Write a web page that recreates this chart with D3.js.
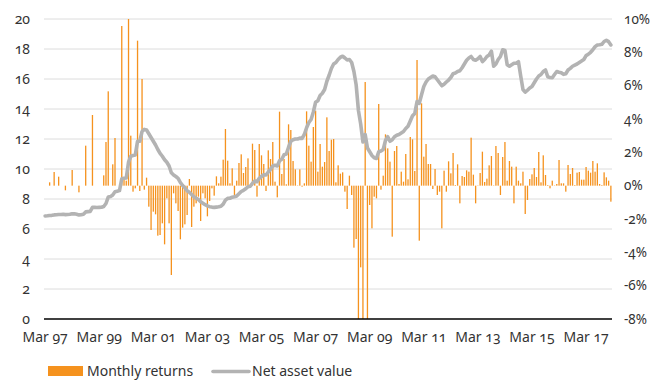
<!DOCTYPE html>
<html>
<head>
<meta charset="utf-8">
<script src="https://cdn.jsdelivr.net/npm/d3@7"></script>
<style>
  html, body { margin: 0; padding: 0; background: #fff; }
  svg { display: block; }
  text {
    font-family: "Noto Sans", "Open Sans", sans-serif;
    font-variant-numeric: oldstyle-nums;
    font-feature-settings: "onum" 1;
    fill: #333;
  }
</style>
</head>
<body>
<svg id="chart" width="651" height="381"></svg>
<script>
// Monthly series, March 1997 to February 2018 (one value per month, 12 per row)
const monthlyReturns = [
  0, 0, 0.2, 0, 0.82, 0, 0.54, 0, 0, -0.28, 0, 0,
  0.94, 0, 0, -0.4, 0, 0, 2.4, 0, 0, 4.24, 0, 0,
  0, 0, 0.62, 2.62, 5.66, 0, 1.28, 2.86, 0, 0, 9.58, 0.48,
  0.3, 10.0, 3.0, -0.36, -0.16, 8.7, -0.32, 6.4, -0.24, 0.48, -1.26, -2.66,
  -1.56, -1.72, -3.0, -2.96, -2.26, -3.52, -0.76, -2.26, -5.36, -0.46, -1.06, -1.52,
  -3.22, -2.52, -2.32, -1.76, 0.4, -2.48, -1.26, -1.06, -0.66, -2.12, -0.46, -0.76,
  -1.84, -0.92, -0.16, -0.6, 0.56, 0.14, 0.54, 1.56, 3.4, 1.5, 0.14, 1.04,
  -0.66, 0.3, 1.36, 1.88, 0.76, 1.12, 1.64, 0.04, 2.52, 2.14, -0.66, 2.5,
  1.82, 1.3, -0.32, 2.12, 1.6, 2.62, 0.24, -0.7, 4.44, 0.7, 1.6, 0.08,
  3.68, 3.34, 1.48, 0.98, 0.02, 0.98, -0.06, 0.14, 4.46, 2.4, 1.44, 3.52,
  4.5, 0.84, 2.5, 1.14, 1.42, 4.1, 2.08, 2.76, 2.8, 0.2, 1.22, 0.72,
  0.8, -0.36, -1.4, 0.6, -0.56, -3.72, -3.2, -8.0, -4.9, -8.0, 6.22, -8.0,
  -1.16, -2.56, -0.66, -0.76, 4.9, -0.24, 0.6, 3.08, 2.24, 1.44, -3.06, 2.08,
  2.38, 0.1, 0.84, 0.24, 1.9, 0.38, 2.92, 2.78, 0.88, 7.54, -3.3, 4.94,
  1.74, 2.5, 1.3, 1.3, -0.2, 1.0, -0.56, -0.36, -2.56, 0.9, -0.36, 1.46,
  0.74, 1.96, 0.04, 1.28, -1.06, 0.58, 0.52, 0.92, 0.84, 2.88, 0.66, -1.06,
  0.02, 0.76, 2.04, 0.22, 0.42, 1.22, 1.78, 0.02, 2.38, 1.96, -0.56, 1.72,
  2.62, 0.3, 1.48, 1.14, -1.06, 1.14, 0.3, 0.14, 0.84, -1.7, -0.86, 0.4,
  0.68, 1.06, 0.52, 2.02, 0.2, 1.82, 0.64, 0.04, -0.16, 0.3, 0.02, 0.1,
  1.54, 0.14, 0.14, -0.36, 1.24, 0.7, 1.06, 0.04, 0.78, 0.82, 0.36, 0.36,
  1.12, 0.9, 0.78, 1.48, 0.84, 1.34, 0.1, 0.04, 0.8, 0.5, 0.3, -0.96
];

const netAssetValue = [
  6.87, 6.88, 6.9, 6.91, 6.94, 6.95, 6.97, 6.97, 6.98, 6.96, 6.97, 6.98,
  7.02, 7.01, 6.98, 6.94, 6.95, 6.98, 7.14, 7.16, 7.17, 7.44, 7.44, 7.43,
  7.44, 7.45, 7.5, 7.7, 8.13, 8.16, 8.27, 8.48, 8.52, 8.56, 9.35, 9.38,
  9.4, 10.45, 10.85, 10.9, 10.93, 11.85, 11.85, 12.5, 12.64, 12.6, 12.35, 12.1,
  11.85, 11.6, 11.3, 11.04, 10.85, 10.62, 10.45, 10.2, 9.75, 9.6, 9.5, 9.38,
  9.1, 8.9, 8.75, 8.55, 8.45, 8.3, 8.15, 8.05, 7.97, 7.82, 7.72, 7.62,
  7.54, 7.49, 7.46, 7.44, 7.46, 7.48, 7.52, 7.66, 7.92, 8.04, 8.05, 8.12,
  8.15, 8.2, 8.35, 8.5, 8.58, 8.68, 8.82, 8.85, 9.05, 9.2, 9.15, 9.38,
  9.5, 9.62, 9.6, 9.8, 9.98, 10.2, 10.25, 10.2, 10.55, 10.65, 10.95, 11.0,
  11.45, 11.85, 11.95, 12.0, 12.0, 12.06, 12.04, 12.3, 12.75, 13.1, 13.3, 13.8,
  14.45, 14.55, 14.9, 15.05, 15.3, 15.85, 16.25, 16.7, 17.0, 17.1, 17.3, 17.45,
  17.52, 17.4, 17.27, 17.3, 17.1, 16.5, 15.6, 13.9, 13.0, 11.8, 12.3, 11.4,
  11.15, 10.9, 10.75, 10.7, 11.15, 11.2, 11.3, 11.9, 12.15, 11.85, 11.95, 12.15,
  12.25, 12.3, 12.4, 12.5, 12.7, 12.85, 13.2, 13.55, 13.7, 14.5, 14.38, 14.95,
  15.5, 15.8, 16.0, 16.1, 16.2, 16.15, 15.95, 15.75, 15.55, 15.65, 15.8, 15.93,
  16.1, 16.35, 16.4, 16.5, 16.55, 16.75, 17.0, 17.25, 17.4, 17.5, 17.3, 17.25,
  17.35, 17.5, 17.16, 17.3, 17.5, 17.6, 17.85, 16.85, 17.0, 17.3, 17.5, 17.95,
  17.9, 16.95, 16.85, 16.95, 17.05, 17.05, 17.15, 16.2, 15.3, 15.12, 15.25, 15.4,
  15.5, 15.75, 16.0, 16.2, 16.3, 16.5, 16.6, 16.15, 16.1, 16.08, 16.3, 16.5,
  16.45, 16.42, 16.31, 16.35, 16.6, 16.71, 16.85, 16.93, 17.0, 17.1, 17.2, 17.3,
  17.56, 17.65, 17.78, 17.95, 18.16, 18.27, 18.28, 18.31, 18.5, 18.58, 18.49, 18.27
];

const months = d3.timeMonth.range(new Date(1997, 2, 1), new Date(2018, 2, 1));
const xTickLabels = ["Mar 97", "Mar 99", "Mar 01", "Mar 03", "Mar 05", "Mar 07",
                     "Mar 09", "Mar 11", "Mar 13", "Mar 15", "Mar 17"];
const navTicks = [0, 2, 4, 6, 8, 10, 12, 14, 16, 18, 20];
const returnTicks = [-8, -6, -4, -2, 0, 2, 4, 6, 8, 10];
const legendLabels = ["Monthly returns", "Net asset value"];

const colors = { bar: "#f5921e", line: "#b3b3b3", grid: "#dcdcdc", axis: "#000" };
const plot = { left: 44, right: 612, top: 19, bottom: 319 };
const fontSize = "14px";

const svg = d3.select("#chart");

const x = d3.scaleBand()
  .domain(months)
  .range([plot.left, plot.right])
  .padding(0);

const yNav = d3.scaleLinear().domain([0, 20]).range([plot.bottom, plot.top]);
const yRet = d3.scaleLinear().domain([-8, 10]).range([plot.bottom, plot.top]);

// gridlines follow the left-hand scale
svg.append("g")
  .selectAll("line")
  .data(navTicks.filter(d => d > 0))
  .join("line")
  .attr("x1", plot.left).attr("x2", plot.right)
  .attr("y1", d => yNav(d)).attr("y2", d => yNav(d))
  .attr("stroke", colors.grid).attr("stroke-width", 1);

// left axis
const leftAxis = svg.append("g")
  .attr("transform", `translate(${plot.left},0)`)
  .call(d3.axisLeft(yNav).tickValues(navTicks).tickSize(0).tickPadding(14));
leftAxis.select(".domain").remove();
leftAxis.selectAll("text").style("font-size", fontSize).attr("fill", "#333");

// right axis
const rightAxis = svg.append("g")
  .attr("transform", `translate(${plot.right},0)`)
  .call(d3.axisRight(yRet).tickValues(returnTicks).tickSize(0).tickPadding(12)
    .tickFormat(d => d + "%"));
rightAxis.select(".domain").remove();
rightAxis.selectAll("text").style("font-size", "13.5px").attr("fill", "#333");

// monthly return bars
const barW = 1.3;
const data = months.map((m, i) => ({ m, r: monthlyReturns[i], nav: netAssetValue[i] }));
svg.append("g")
  .selectAll("rect")
  .data(data)
  .join("rect")
  .attr("x", d => x(d.m) + (x.bandwidth() - barW) / 2)
  .attr("width", barW)
  .attr("y", d => yRet(Math.max(0, d.r)))
  .attr("height", d => Math.abs(yRet(d.r) - yRet(0)))
  .attr("fill", colors.bar);

// net asset value line
const line = d3.line()
  .x(d => x(d.m) + x.bandwidth() / 2)
  .y(d => yNav(d.nav))
  .curve(d3.curveLinear);
svg.append("path")
  .datum(data)
  .attr("d", line)
  .attr("fill", "none")
  .attr("stroke", colors.line)
  .attr("stroke-width", 3.6)
  .attr("stroke-linejoin", "round")
  .attr("stroke-linecap", "round");

// bottom axis line
svg.append("line")
  .attr("x1", plot.left).attr("x2", plot.right)
  .attr("y1", plot.bottom).attr("y2", plot.bottom)
  .attr("stroke", colors.axis).attr("stroke-width", 1.5);

// x labels every second March
const xAxis = svg.append("g")
  .attr("transform", `translate(0,${plot.bottom})`)
  .call(d3.axisBottom(x)
    .tickValues(months.filter((m, i) => i % 24 === 0))
    .tickSize(0).tickPadding(13)
    .tickFormat((m, i) => xTickLabels[i]));
xAxis.select(".domain").remove();
xAxis.selectAll("text").style("font-size", fontSize).attr("fill", "#333");

// legend
const legend = svg.append("g");
legend.append("rect")
  .attr("x", 48).attr("y", 366).attr("width", 35).attr("height", 10)
  .attr("fill", colors.bar);
legend.append("text")
  .attr("x", 87).attr("y", 376)
  .style("font-size", fontSize)
  .text(legendLabels[0]);
legend.append("line")
  .attr("x1", 213).attr("x2", 249).attr("y1", 371.5).attr("y2", 371.5)
  .attr("stroke", colors.line).attr("stroke-width", 3.6)
  .attr("stroke-linecap", "round");
legend.append("text")
  .attr("x", 252).attr("y", 376)
  .style("font-size", fontSize)
  .text(legendLabels[1]);
</script>
</body>
</html>
